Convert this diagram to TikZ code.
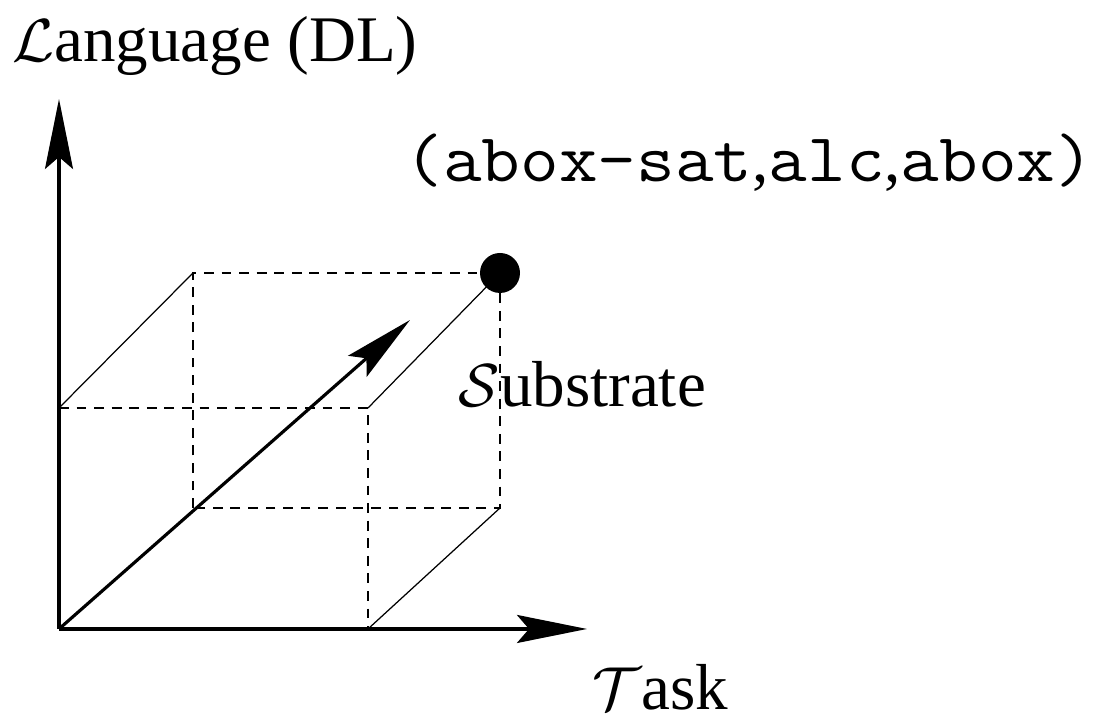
\documentclass[tikz,border=0pt]{standalone}
\usepackage{fontspec}
\setmainfont{Liberation Serif}
\usetikzlibrary{arrows.meta}
\newcommand{\monotxt}[1]{\scalebox{1.095}[1]{\fontsize{19.5}{20}\selectfont\texttt{#1}}}
\tikzset{
  axis/.style={line width=0.9pt, -{Stealth[length=0.7cm, width=0.28cm, inset=0.12cm]}},
  edge/.style={line width=0.35pt},
  hidden/.style={line width=0.35pt, dash pattern=on 2.8pt off 2.2pt},
  lbl/.style={inner sep=0pt, anchor=base west, font=\fontsize{18.5}{20}\selectfont}
}
\begin{document}
\begin{tikzpicture}
\useasboundingbox (0,0) rectangle (10.99,7.2);
\coordinate (o) at (0.59,0.91);
\coordinate (ltip) at (0.59,6.21);
\coordinate (ttip) at (5.87,0.91);
\coordinate (stip) at (4.10,4.00);
%front face
\coordinate (ftl) at (0.59,3.12);
\coordinate (fbr) at (3.68,0.91);
\coordinate (ftr) at (3.68,3.12);
%back face
\coordinate (bbl) at (1.93,2.12);
\coordinate (bbr) at (5.00,2.12);
\coordinate (btl) at (1.93,4.47);
\coordinate (btr) at (5.00,4.47);

\draw[hidden] (ftl) -- (ftr) -- (fbr);
\draw[hidden] (bbl) -- (btl) -- (btr) -- (bbr) -- (bbl);
\draw[edge] (ftl) -- (btl);
\draw[edge] (ftr) -- (btr);
\draw[edge] (fbr) -- (bbr);
%box

\draw[axis] (o) -- (ltip);
\draw[axis] (o) -- (ttip);
\draw[axis] (o) -- (stip);
%axes

\fill (btr) circle(0.2);
\node[lbl] (lang) at (0.12,6.58) {$\mathcal{L}$anguage (DL)};
\node[lbl] (point) at (4.04,5.38) {\monotxt{(abox-sat},\monotxt{alc},\monotxt{abox)}};
\node[lbl] (subs) at (4.58,3.13) {$\mathcal{S}$ubstrate};
\node[lbl] (task) at (5.92,0.10) {$\mathcal{T}$ask};
%labels
\end{tikzpicture}
\end{document}
